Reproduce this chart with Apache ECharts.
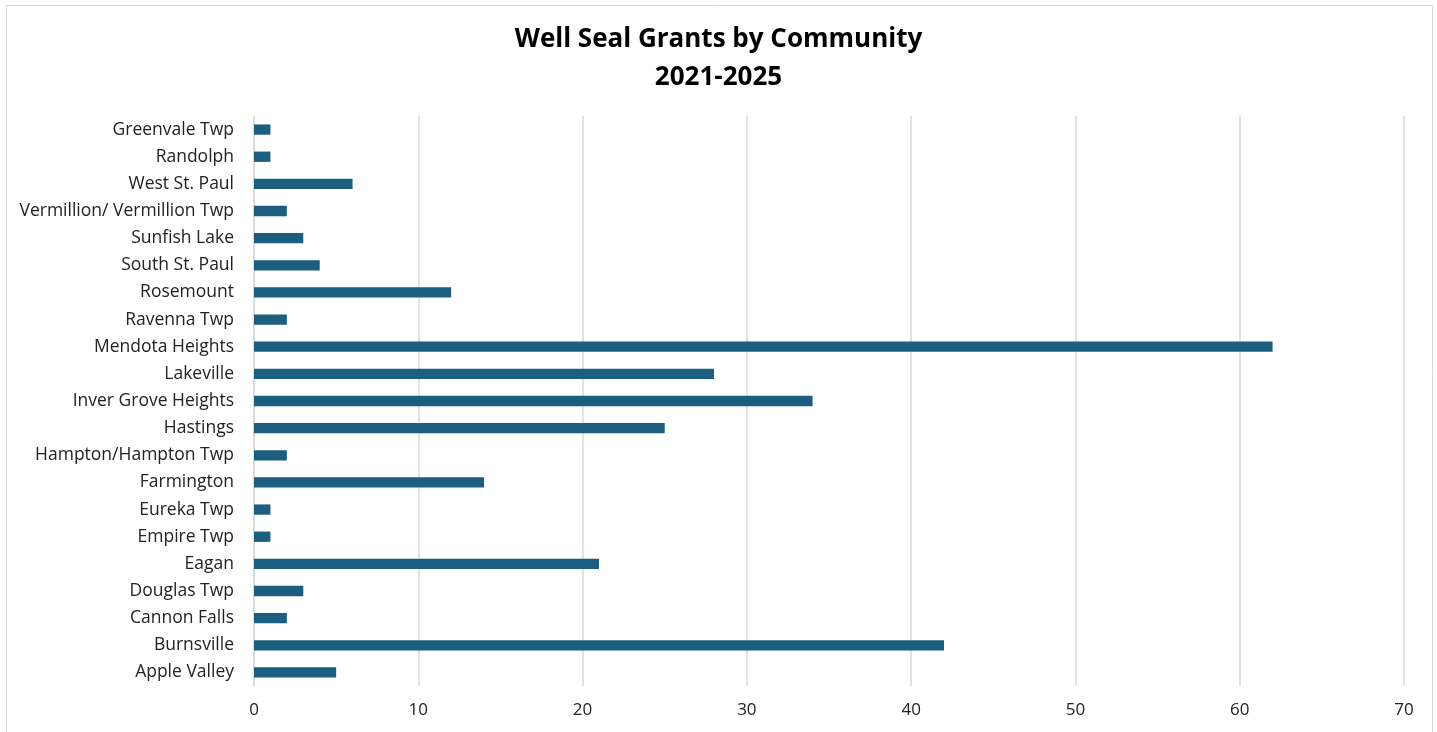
<!DOCTYPE html>
<html><head><meta charset="utf-8">
<script src="https://cdn.jsdelivr.net/npm/echarts@6/dist/echarts.min.js"></script>
<style>html,body{margin:0;padding:0;background:#fff}#c{width:1437px;height:732px}</style>
</head><body><div id="c"></div>
<script>
const categories = ["Apple Valley","Burnsville","Cannon Falls","Douglas Twp","Eagan","Empire Twp","Eureka Twp","Farmington","Hampton/Hampton Twp","Hastings","Inver Grove Heights","Lakeville","Mendota Heights","Ravenna Twp","Rosemount","South St. Paul","Sunfish Lake","Vermillion/ Vermillion Twp","West St. Paul","Randolph","Greenvale Twp"];
const grants = [5,42,2,3,21,1,1,14,2,25,34,28,62,2,12,4,3,2,6,1,1];
const xTicks = {min:0, max:70, interval:10};
const chart = echarts.init(document.getElementById('c'));
chart.setOption({
  animation:false,
  graphic:[{type:'rect',shape:{x:6.5,y:5.5,width:1426,height:740},style:{fill:'none',stroke:'#d9d9d9',lineWidth:1}}],
  title:{text:'Well Seal Grants by Community\n2021-2025',left:'center',top:16,
    textStyle:{fontFamily:'Open Sans',fontWeight:'bold',fontSize:26,lineHeight:38,color:'#000'}},
  grid:{left:254,right:33,top:116,bottom:46,containLabel:false},
  xAxis:{type:'value',min:xTicks.min,max:xTicks.max,interval:xTicks.interval,
    axisLine:{show:false},axisTick:{show:false},
    axisLabel:{fontFamily:'Open Sans',fontSize:17,color:'#222',margin:16},
    splitLine:{lineStyle:{color:'#d9d9d9',width:1.5}}},
  yAxis:{type:'category',data:categories,
    axisLine:{show:true,lineStyle:{color:'#d9d9d9',width:1.5}},axisTick:{show:false},
    axisLabel:{fontFamily:'Open Sans',fontSize:17.5,color:'#222',margin:20}},
  series:[{type:'bar',data:grants,barWidth:'38%',itemStyle:{color:'#1b5e80'}}]
});
</script></body></html>
